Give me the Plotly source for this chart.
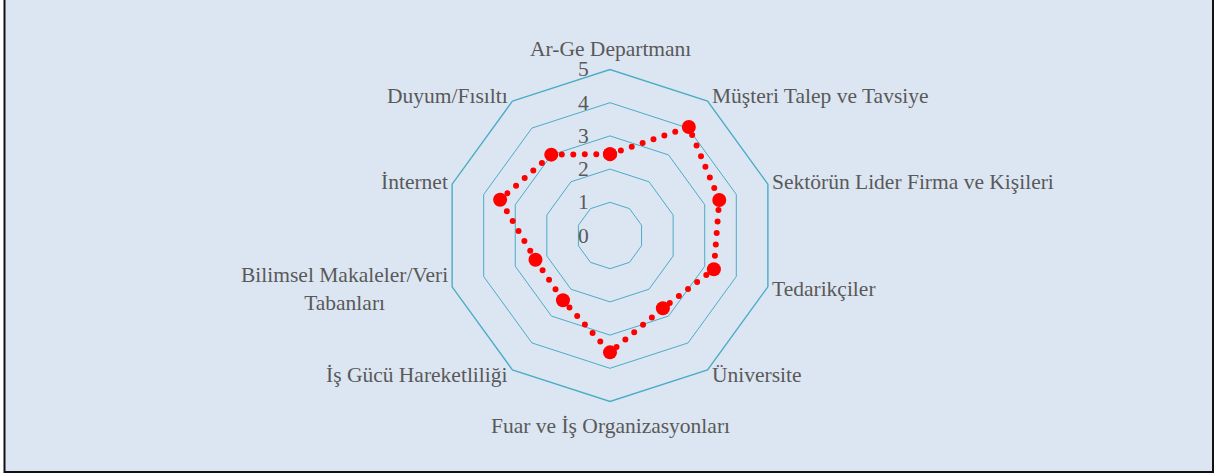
import math
import plotly.graph_objects as go

categories = [
    "Ar-Ge Departmanı",
    "Müşteri Talep ve Tavsiye",
    "Sektörün Lider Firma ve Kişileri",
    "Tedarikçiler",
    "Üniversite",
    "Fuar ve İş Organizasyonları",
    "İş Gücü Hareketliliği",
    "Bilimsel Makaleler/Veri<br>Tabanları",
    "İnternet",
    "Duyum/Fısıltı",
]
scores = [2.45, 4.04, 3.46, 3.29, 2.71, 3.52, 2.41, 2.36, 3.48, 3.01]
radial_ticks = [0, 1, 2, 3, 4, 5]

W, H = 1215, 475
cx, cy, rad = 610, 235.5, 166
rmax = 5

grid_col = "#4bacc6"
txt_col = "#595959"
font = dict(family="Liberation Serif", size=21.5, color=txt_col)

fig = go.Figure()
fig.add_trace(go.Scatterpolar(
    r=scores + scores[:1],
    theta=categories + categories[:1],
    mode="lines+markers",
    line=dict(color="#ff0000", width=6, dash="0px,11.5px"),
    marker=dict(color="#ff0000", size=14, symbol="circle"),
    showlegend=False,
    hoverinfo="skip",
))

# category labels next to the outer polygon corners (Excel style)
annotations = []
n = len(categories)
for i, name in enumerate(categories):
    a = math.radians(360 * i / n)
    vx = cx + rad * math.sin(a)
    vy = cy - rad * math.cos(a)
    if abs(math.sin(a)) < 1e-6:
        x, xa = vx, "center"
        y = vy - 20.5 if math.cos(a) > 0 else vy + 24.5
    else:
        side = 1 if math.sin(a) > 0 else -1
        x = vx + 2 * side
        xa = "left" if side > 0 else "right"
        y = vy - 7 * math.cos(a)
    annotations.append(dict(text=name, x=x / W, y=1 - y / H, xref="paper", yref="paper",
                            xanchor=xa, yanchor="middle", showarrow=False, font=font))

# radial tick labels, left of the vertical axis
for v in radial_ticks:
    y = cy - v * rad / rmax
    annotations.append(dict(text=str(v), x=(cx - 27) / W, y=1 - y / H, xref="paper", yref="paper",
                            xanchor="center", yanchor="middle", showarrow=False, font=font))

fig.update_layout(
    width=W, height=H,
    margin=dict(l=0, r=0, t=0, b=0),
    paper_bgcolor="white",
    font=font,
    annotations=annotations,
    shapes=[dict(type="rect", xref="paper", yref="paper", layer="below",
                 x0=4.5 / W, x1=1213 / W, y0=(H - 472) / H, y1=1.2,
                 fillcolor="#dce6f2", line=dict(color="#111111", width=2))],
    polar=dict(
        domain=dict(x=[(cx - rad) / W, (cx + rad) / W],
                    y=[(H - cy - rad) / H, (H - cy + rad) / H]),
        bgcolor="rgba(0,0,0,0)",
        gridshape="linear",
        radialaxis=dict(
            range=[0, rmax], tickvals=radial_ticks, angle=90,
            showticklabels=False,
            showline=False, ticks="", gridcolor=grid_col, gridwidth=1.4,
        ),
        angularaxis=dict(
            direction="clockwise", rotation=90,
            showgrid=False, ticks="", showticklabels=False,
            linecolor=grid_col, linewidth=1.4,
        ),
    ),
)

fig.write_html("out.html", config={"displayModeBar": False}, post_script=(
    "document.body.style.margin='0';"
    "document.querySelectorAll('.scatterlayer .js-line').forEach("
    "function(p){p.style.strokeLinecap='round';});"
))
